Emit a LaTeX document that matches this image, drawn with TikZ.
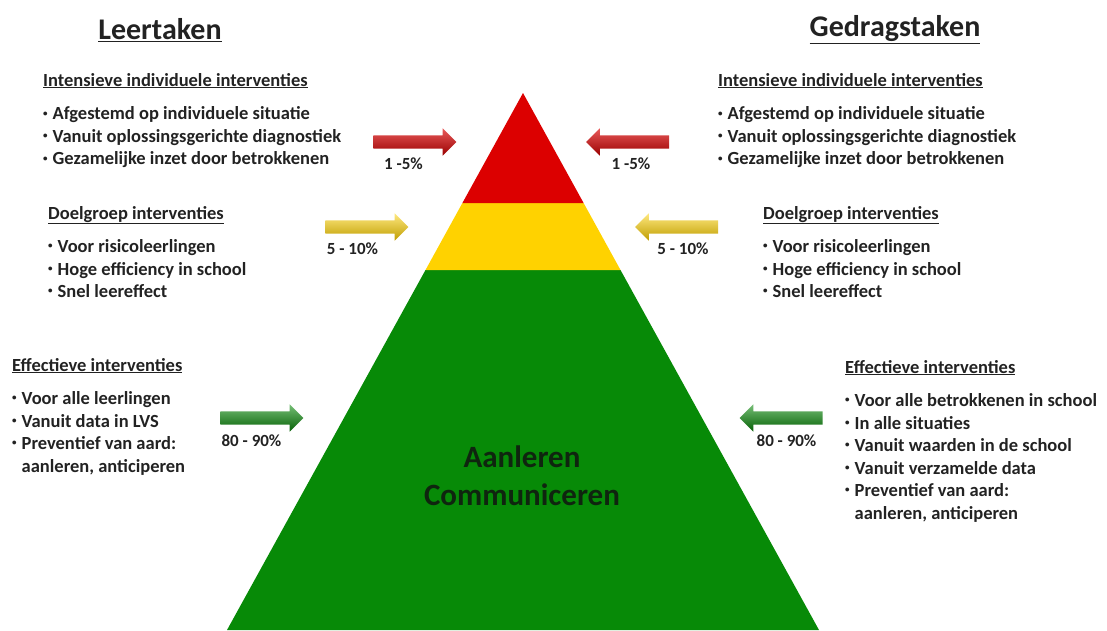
\documentclass[tikz,border=0pt]{standalone}
\usepackage{fontspec}
\setmainfont{Carlito}
\usepackage{xcolor}
\usepackage{tikz}
\usetikzlibrary{positioning,shapes.arrows}
\definecolor{pyred}{HTML}{DC0000}
\definecolor{pyyellow}{HTML}{FFD200}
\definecolor{pygreen}{HTML}{078A07}
\definecolor{txt}{HTML}{222222}
\definecolor{ctext}{HTML}{0F250F}
\newcommand{\bol}{\raisebox{0.2em}{\fontsize{9}{9}\selectfont•}\hspace{5pt}}
\tikzset{
  titel/.style={font=\fontsize{30}{34}\selectfont\bfseries,text=txt,inner sep=0pt},
  kop/.style={font=\fontsize{18.5}{22}\selectfont\bfseries,text=txt,inner sep=0pt,anchor=base west},
  lijst/.style={font=\fontsize{18.5}{22.5}\selectfont\bfseries,text=txt,inner sep=0pt,align=left},
  pijl/.style={single arrow,single arrow head extend=7pt,inner xsep=0pt,inner ysep=6.5pt,minimum height=83pt,draw=none},
  pct/.style={font=\fontsize{17}{18}\selectfont\bfseries,text=txt,inner sep=0pt},
}

\begin{document}
\begin{tikzpicture}[x=1pt,y=-1pt]
\useasboundingbox (0,0) rectangle (1107,630);

% pyramide
\fill[pygreen] (425.5,270) -- (620.5,270) -- (819,630) -- (227,630) -- cycle;
\fill[pyyellow] (462.4,203) -- (583.6,203) -- (620.5,270) -- (425.5,270) -- cycle;
\fill[pyred] (523,93) -- (583.6,203) -- (462.4,203) -- cycle;
\node[font=\fontsize{31}{38}\selectfont\bfseries,text=ctext,align=center,inner sep=0pt] (kern) at (522,476) {Aanleren\\Communiceren};

% titels
\node[titel] (leer) at (160,30) {\underline{Leertaken}};
\node[titel] (gedrag) at (895,30) {\underline{Gedragstaken}};

% links
\node[kop] (lk1) at (43,86) {\underline{Intensieve individuele interventies}};
\node[lijst,below right=20.5pt and 0pt of lk1.base west] (ll1) {\bol Afgestemd op individuele situatie\\\bol Vanuit oplossingsgerichte diagnostiek\\\bol Gezamelijke inzet door betrokkenen};
\node[kop] (lk2) at (48,219) {\underline{Doelgroep interventies}};
\node[lijst,below right=20.5pt and 0pt of lk2.base west] (ll2) {\bol Voor risicoleerlingen\\\bol Hoge efficiency in school\\\bol Snel leereffect};
\node[kop] (lk3) at (12,371) {\underline{Effectieve interventies}};
\node[lijst,below right=20.5pt and 0pt of lk3.base west] (ll3) {\bol Voor alle leerlingen\\\bol Vanuit data in LVS\\\bol Preventief van aard:\\\phantom{\bol}aanleren, anticiperen};

% rechts
\node[kop] (rk1) at (718,86) {\underline{Intensieve individuele interventies}};
\node[lijst,below right=20.5pt and 0pt of rk1.base west] (rl1) {\bol Afgestemd op individuele situatie\\\bol Vanuit oplossingsgerichte diagnostiek\\\bol Gezamelijke inzet door betrokkenen};
\node[kop] (rk2) at (763,219) {\underline{Doelgroep interventies}};
\node[lijst,below right=20.5pt and 0pt of rk2.base west] (rl2) {\bol Voor risicoleerlingen\\\bol Hoge efficiency in school\\\bol Snel leereffect};
\node[kop] (rk3) at (845,373) {\underline{Effectieve interventies}};
\node[lijst,below right=20.5pt and 0pt of rk3.base west] (rl3) {\bol Voor alle betrokkenen in school\\\bol In alle situaties\\\bol Vanuit waarden in de school\\\bol Vanuit verzamelde data\\\bol Preventief van aard:\\\phantom{\bol}aanleren, anticiperen};

% pijlen
\node[pijl,top color=pyred!65!white,middle color=pyred,bottom color=pyred!70!black] (prl) at (411.5,142) {};
\node[pijl,shape border rotate=180,top color=pyred!65!white,middle color=pyred,bottom color=pyred!70!black] (prr) at (631,142) {};
\node[pijl,top color=pyyellow!50!white,middle color=pyyellow,bottom color=pyyellow!75!black] (pyl) at (363.5,227) {};
\node[pijl,shape border rotate=180,top color=pyyellow!50!white,middle color=pyyellow,bottom color=pyyellow!75!black] (pyr) at (680,227) {};
\node[pijl,top color=pygreen!55!white,middle color=pygreen!90!white,bottom color=pygreen!70!black] (pgl) at (258.5,418) {};
\node[pijl,shape border rotate=180,top color=pygreen!55!white,middle color=pygreen!90!white,bottom color=pygreen!70!black] (pgr) at (784.5,418) {};

\node[pct,below=9pt of prl,xshift=-8pt] (tl1) {1 -5\%};
\node[pct,below=9pt of prr] (tr1) {1 -5\%};
\node[pct,below=9pt of pyl,xshift=-11pt] (tl2) {5 - 10\%};
\node[pct,below=9pt of pyr,xshift=3pt] (tr2) {5 - 10\%};
\node[pct,below=10pt of pgl,xshift=-7pt] (tl3) {80 - 90\%};
\node[pct,below=10pt of pgr,xshift=2pt] (tr3) {80 - 90\%};
\end{tikzpicture}
\end{document}
